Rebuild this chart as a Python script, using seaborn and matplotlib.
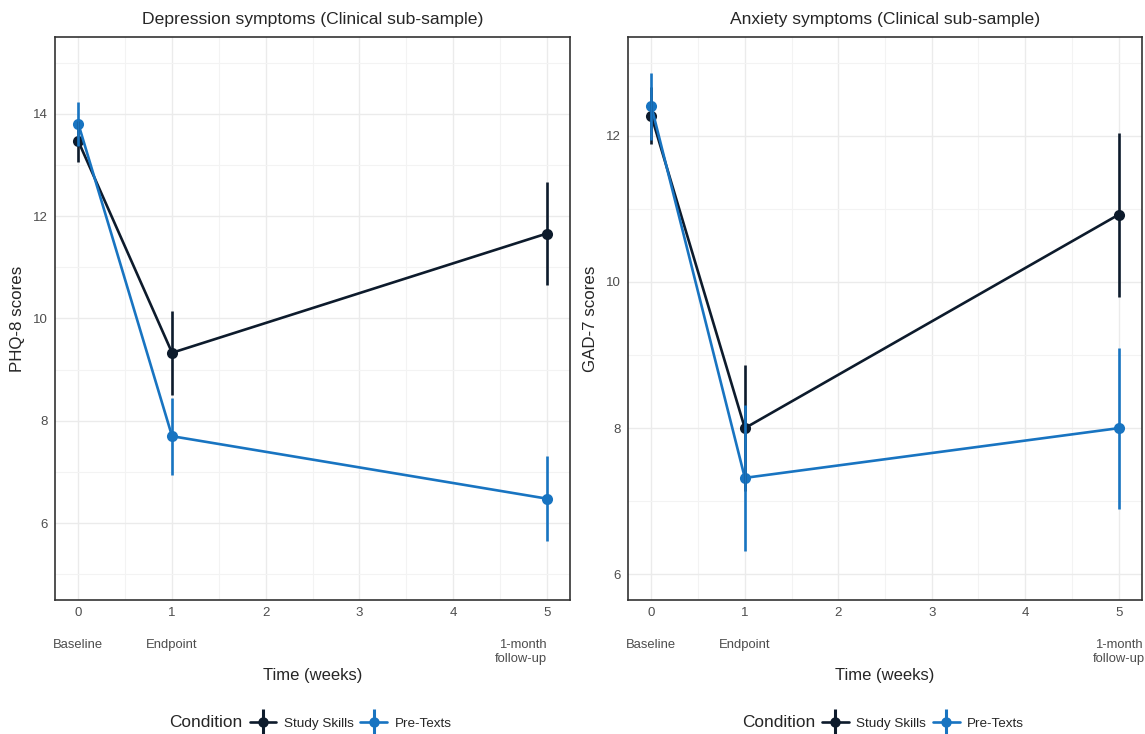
import matplotlib.pyplot as plt
from matplotlib.lines import Line2D
from matplotlib.ticker import MultipleLocator
import pandas as pd
import seaborn as sns

# Data (means and half-width of error bars)
WEEKS = [0, 1, 5]
CONDITIONS = ["Study Skills", "Pre-Texts"]
COLORS = {"Study Skills": "#0d1b2c", "Pre-Texts": "#1874c1"}

PHQ_STUDY = [13.46, 9.33, 11.66]
PHQ_STUDY_ERR = [0.40, 0.82, 1.00]
PHQ_PRE = [13.80, 7.70, 6.48]
PHQ_PRE_ERR = [0.43, 0.75, 0.83]

GAD_STUDY = [12.27, 8.00, 10.92]
GAD_STUDY_ERR = [0.39, 0.86, 1.12]
GAD_PRE = [12.40, 7.32, 8.00]
GAD_PRE_ERR = [0.46, 1.00, 1.10]

TIME_LABELS = ["Baseline", "Endpoint", "1-month\nfollow-up"]

GREY_TEXT = "#4d4d4d"


def make_frame(study, study_err, pre, pre_err):
    rows = []
    for cond, means, errs in [("Study Skills", study, study_err), ("Pre-Texts", pre, pre_err)]:
        for w, m, e in zip(WEEKS, means, errs):
            rows.append({"week": w, "score": m, "err": e, "condition": cond})
    return pd.DataFrame(rows)


def draw_panel(ax, df, title, ylabel, ylim, last_label_ha):
    # lines + points through seaborn
    sns.lineplot(
        data=df,
        x="week",
        y="score",
        hue="condition",
        hue_order=CONDITIONS,
        palette=COLORS,
        marker="o",
        markersize=8,
        markeredgewidth=0,
        linewidth=1.9,
        errorbar=None,
        legend=False,
        ax=ax,
    )
    # error bars
    for cond in CONDITIONS:
        sub = df[df["condition"] == cond]
        ax.errorbar(
            sub["week"], sub["score"], yerr=sub["err"],
            fmt="none", ecolor=COLORS[cond], elinewidth=1.9, capsize=0, zorder=3,
        )

    ax.set_xlim(-0.25, 5.25)
    ax.set_ylim(*ylim)
    ax.xaxis.set_major_locator(MultipleLocator(1))
    ax.xaxis.set_minor_locator(MultipleLocator(0.5))
    ax.yaxis.set_major_locator(MultipleLocator(2))
    ax.yaxis.set_minor_locator(MultipleLocator(1))
    ax.grid(True, which="major", color="#ebebeb", linewidth=1.0)
    ax.grid(True, which="minor", color="#f3f3f3", linewidth=0.8)
    ax.set_axisbelow(True)
    ax.tick_params(which="both", length=0, labelsize=9.5, labelcolor=GREY_TEXT)
    ax.tick_params(axis="x", pad=5)
    ax.tick_params(axis="y", pad=5)
    for sp in ax.spines.values():
        sp.set_visible(True)
        sp.set_color("#333333")
        sp.set_linewidth(1.2)

    ax.set_title(title, fontsize=12.6, pad=9)
    ax.set_xlabel("")
    ax.set_ylabel(ylabel, fontsize=12.2)
    ax.yaxis.set_label_coords(-0.058, 0.5)

    # secondary time-point labels under the ticks
    trans = ax.get_xaxis_transform()
    for i, (w, lab) in enumerate(zip(WEEKS, TIME_LABELS)):
        ha = last_label_ha if i == len(WEEKS) - 1 else "center"
        ax.text(w, -0.069, lab, transform=trans, ha=ha, va="top", ma=ha,
                fontsize=9.4, color=GREY_TEXT, clip_on=False)
    ax.text(0.5, -0.135, "Time (weeks)", transform=ax.transAxes, ha="center", va="center", fontsize=12)

    # legend with a ggplot-like point-range key
    handles = [Line2D([], [], alpha=0)]
    for cond in CONDITIONS:
        h_line = Line2D([], [], color=COLORS[cond], linewidth=1.9, marker="o", markersize=7.5, markeredgewidth=0)
        h_bar = Line2D([], [], color=COLORS[cond], linestyle="none", marker="|", markersize=19, markeredgewidth=2.2)
        handles.append((h_line, h_bar))
    leg = ax.legend(
        handles, ["Condition"] + CONDITIONS,
        loc="center", bbox_to_anchor=(0.463, -0.217), ncol=3,
        frameon=False, fontsize=9.7, handlelength=2.0, handletextpad=0.55, columnspacing=0.5,
    )
    leg.get_texts()[0].set_fontsize(12.4)


sns.set_theme(style="white")
plt.rcParams["font.family"] = ["Liberation Sans", "DejaVu Sans"]

fig = plt.figure(figsize=(11.45, 7.34), dpi=100)
ax_l = fig.add_axes([0.048, 0.1826, 0.45, 0.767])
ax_r = fig.add_axes([0.5485, 0.1826, 0.4489, 0.767])

draw_panel(
    ax_l, make_frame(PHQ_STUDY, PHQ_STUDY_ERR, PHQ_PRE, PHQ_PRE_ERR),
    "Depression symptoms (Clinical sub-sample)", "PHQ-8 scores", (4.5, 15.5), "right",
)
draw_panel(
    ax_r, make_frame(GAD_STUDY, GAD_STUDY_ERR, GAD_PRE, GAD_PRE_ERR),
    "Anxiety symptoms (Clinical sub-sample)", "GAD-7 scores", (5.65, 13.35), "center",
)

fig.savefig("out.png", dpi=100)
